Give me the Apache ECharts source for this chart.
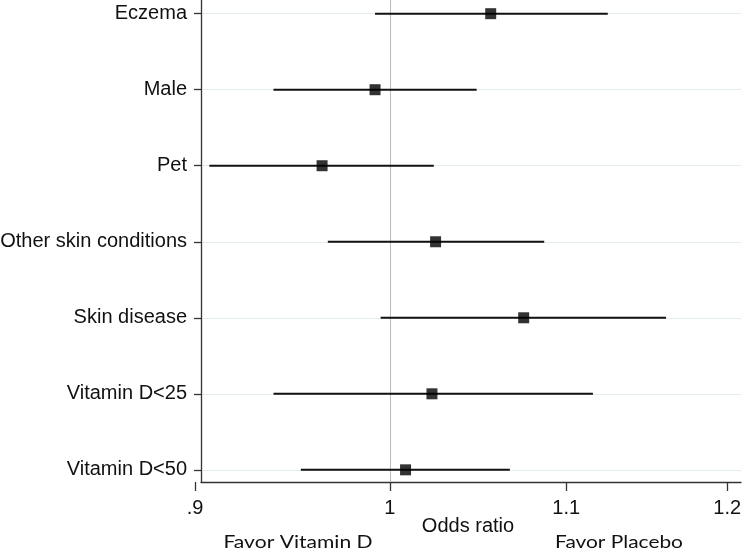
<!DOCTYPE html>
<html>
<head>
<meta charset="utf-8">
<script src="https://cdn.jsdelivr.net/npm/echarts@6/dist/echarts.min.js"></script>
<style>
html,body{margin:0;padding:0;background:#fff;}
#chart{width:742px;height:554px;}
</style>
</head>
<body>
<div id="chart"></div>
<script>
const categories = ['Eczema', 'Male', 'Pet', 'Other skin conditions', 'Skin disease', 'Vitamin D<25', 'Vitamin D<50'];
const oddsRatio = [1.056, 0.992, 0.964, 1.025, 1.075, 1.023, 1.0085];
const lowerCI = [0.992, 0.939, 0.907, 0.967, 0.995, 0.939, 0.953];
const upperCI = [1.125, 1.048, 1.024, 1.087, 1.161, 1.116, 1.067];
const xTicks = [0.9, 1, 1.1, 1.2];
const xTickLabels = ['.9', '1', '1.1', '1.2'];
const rowPositions = categories.map((c, i) => i + 1);

const chart = echarts.init(document.getElementById('chart'));
const labelFont = '"Liberation Sans", Arial, sans-serif';
const noteFont = 'Lato, "Open Sans", sans-serif';
const yMin = 0.82, yMax = 7.16;

chart.setOption({
  animation: false,
  backgroundColor: '#ffffff',
  grid: [
    { left: 195, right: 1, top: 0, bottom: 72, containLabel: false, outerBoundsMode: 'none' },
    { left: 201, right: 1, top: 0, bottom: 72, containLabel: false, outerBoundsMode: 'none' }
  ],
  xAxis: [
    {
      gridIndex: 0,
      type: 'log',
      logBase: 10,
      min: 0.9,
      max: 1.209,
      name: 'Odds ratio',
      nameLocation: 'middle',
      nameGap: 34,
      nameMoveOverlap: false,
      nameTextStyle: { fontFamily: labelFont, fontSize: 20, color: '#111' },
      axisLine: { show: false },
      axisTick: { show: true, inside: false, length: 9, customValues: xTicks, lineStyle: { color: '#333', width: 1.3 } },
      axisLabel: {
        customValues: xTicks,
        margin: 16,
        fontFamily: labelFont, fontSize: 20, color: '#111',
        formatter: function (v) {
          const i = xTicks.findIndex(t => Math.abs(t - v) < 1e-6);
          return i >= 0 ? xTickLabels[i] : '';
        }
      },
      splitLine: { show: false },
      minorTick: { show: false }
    },
    {
      gridIndex: 1,
      type: 'value',
      min: 0,
      max: 1,
      axisLine: { show: true, onZero: false, lineStyle: { color: '#333', width: 1.3 } },
      axisTick: { show: false },
      axisLabel: { show: false },
      splitLine: { show: false }
    }
  ],
  yAxis: [
    {
      gridIndex: 0,
      type: 'value',
      inverse: true,
      min: yMin,
      max: yMax,
      show: false,
      splitLine: { show: false }
    },
    {
      gridIndex: 1,
      type: 'value',
      inverse: true,
      min: yMin,
      max: yMax,
      axisLine: { show: true, onZero: false, lineStyle: { color: '#333', width: 1.3 } },
      axisTick: { show: true, inside: false, length: 7, customValues: rowPositions, lineStyle: { color: '#333', width: 1.3 } },
      axisLabel: {
        customValues: rowPositions,
        margin: 14,
        fontFamily: labelFont, fontSize: 20, color: '#111',
        formatter: function (v) {
          const i = Math.round(v) - 1;
          return categories[i] !== undefined ? categories[i] : '';
        }
      },
      splitLine: { show: true, lineStyle: { color: '#e3edf0', width: 1 } }
    }
  ],
  graphic: [
    { type: 'text', x: 298, y: 542, scaleX: 1.17, style: { text: 'Favor Vitamin D', fontFamily: noteFont, fontSize: 18, fill: '#111', align: 'center', verticalAlign: 'middle' } },
    { type: 'text', x: 619, y: 542, scaleX: 1.16, style: { text: 'Favor Placebo', fontFamily: noteFont, fontSize: 18, fill: '#111', align: 'center', verticalAlign: 'middle' } }
  ],
  series: [
    {
      type: 'custom',
      name: 'CI',
      xAxisIndex: 0,
      yAxisIndex: 0,
      silent: true,
      z: 3,
      renderItem: function (params, api) {
        const y = api.value(2);
        const p1 = api.coord([api.value(0), y]);
        const p2 = api.coord([api.value(1), y]);
        return {
          type: 'line',
          shape: { x1: p1[0], y1: p1[1], x2: p2[0], y2: p2[1] },
          style: { stroke: '#111', lineWidth: 2 }
        };
      },
      encode: { x: [0, 1], y: 2 },
      data: categories.map((c, i) => [lowerCI[i], upperCI[i], rowPositions[i]])
    },
    {
      type: 'scatter',
      name: 'OR',
      xAxisIndex: 0,
      yAxisIndex: 0,
      symbol: 'rect',
      symbolSize: 11,
      z: 4,
      itemStyle: { color: '#000' },
      data: categories.map((c, i) => [oddsRatio[i], rowPositions[i]]),
      markLine: {
        silent: true,
        symbol: ['none', 'none'],
        label: { show: false },
        z: 1,
        lineStyle: { color: '#b9b9b9', width: 1, type: 'solid' },
        data: [{ xAxis: 1 }]
      }
    }
  ]
});
</script>
</body>
</html>
